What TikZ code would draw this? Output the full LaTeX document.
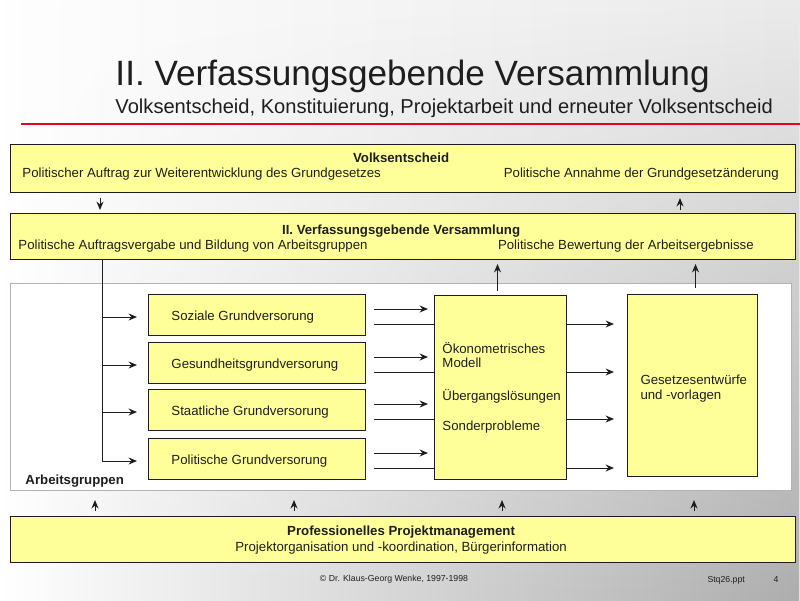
\documentclass[tikz,border=0pt]{standalone}
\usepackage{fontspec}
\setmainfont{Liberation Sans}
\usetikzlibrary{calc,arrows.meta,fadings}
\definecolor{boxyellow}{RGB}{255,255,153}
\definecolor{textgray}{RGB}{30,30,30}
\definecolor{linered}{RGB}{230,0,35}
\tikzfading[name=fadeup, top color=transparent!100, bottom color=transparent!0]
\newcommand{\sizetitle}{\fontsize{25pt}{30pt}\selectfont}
\newcommand{\sizesub}{\fontsize{14.3pt}{17pt}\selectfont}
\newcommand{\sizebox}{\fontsize{9.4pt}{11pt}\selectfont}
\newcommand{\sizefoot}{\fontsize{6.2pt}{8pt}\selectfont}

\begin{document}
\begin{tikzpicture}[x=0.025cm, y=-0.025cm, line width=0.7pt,
        box/.style={draw=textgray, fill=boxyellow, anchor=north west, inner sep=0pt},
        arr/.style={-{Stealth[length=6pt,width=5pt,inset=2pt]}, textgray},
        txt/.style={text=textgray, font=\sizebox, inner sep=0pt}]
        \useasboundingbox (0,0) rectangle (800,600);
        \shade[left color=white, right color=black!8] (0,0) rectangle (800,600);
        \shade[left color=white, right color=black!32, path fading=fadeup] (0,0) rectangle (800,600);

        \node[txt, font=\sizetitle, anchor=base west] (title) at (115,85) {II. Verfassungsgebende Versammlung};
        \node[txt, font=\sizesub, anchor=base west] (subtitle) at (115,113) {Volksentscheid, Konstituierung, Projektarbeit und erneuter Volksentscheid};
        \draw[linered, line width=1pt] (21,124) -- (800,124);

        \node[box, minimum width=19.625cm, minimum height=1.2cm] (volk) at (10,144) {};
        \node[txt, font=\sizebox\bfseries] (volkhead) at ($(volk.north)+(-2,14)$) {Volksentscheid};
        \node[txt, anchor=west] (volkleft) at ($(volk.north west)+(12,30)$) {Politischer Auftrag zur Weiterentwicklung des Grundgesetzes};
        \node[txt, anchor=east] (volkright) at ($(volk.north east)+(-17,30)$) {Politische Annahme der Grundgesetzänderung};

        \node[box, minimum width=19.625cm, minimum height=1.15cm] (vers) at (10,213) {};
        \node[txt, font=\sizebox\bfseries] (vershead) at ($(vers.north)+(-2,18)$) {II. Verfassungsgebende Versammlung};
        \node[txt, anchor=west] (versleft) at ($(vers.north west)+(8,33)$) {Politische Auftragsvergabe und Bildung von Arbeitsgruppen};
        \node[txt, anchor=east] (versright) at ($(vers.north east)+(-42,33)$) {Politische Bewertung der Arbeitsergebnisse};

        \draw[arr] ($(volk.south west)+(90,5)$) -- ($(vers.north west)+(90,-3)$);
        \draw[arr] ($(vers.north west)+(670,-3)$) -- ($(volk.south west)+(670,5)$);

        \node[box, fill=white, draw=black!30, minimum width=19.525cm, minimum height=5.175cm] (panel) at (10,283) {};
        \node[txt, font=\sizebox\bfseries, anchor=west] (panellabel) at ($(panel.south west)+(15,-10)$) {Arbeitsgruppen};

        \foreach \name/\y/\label in {soz/294/Soziale Grundversorung, ges/342/Gesundheitsgrundversorung, sta/389/Staatliche Grundversorung, pol/438/Politische Grundversorung}{
            \node[box, minimum width=5.425cm, minimum height=1.025cm] (\name) at (148,\y) {};
            \node[txt, anchor=west] (\name-text) at ($(\name.west)+(23,2)$) {\label};
        }

        \node[box, minimum width=3.3cm, minimum height=4.6cm] (oeko) at (434,295) {};
        \node[txt, anchor=west] (oeko1) at ($(oeko.north west)+(8,53)$) {Ökonometrisches};
        \node[txt, anchor=west] (oeko2) at ($(oeko.north west)+(8,68)$) {Modell};
        \node[txt, anchor=west] (oeko3) at ($(oeko.north west)+(8,101)$) {Übergangslösungen};
        \node[txt, anchor=west] (oeko4) at ($(oeko.north west)+(8,132)$) {Sonderprobleme};

        \node[box, minimum width=3.25cm, minimum height=4.55cm] (gesetz) at (627,294) {};
        \node[txt, anchor=west] (gesetz1) at ($(gesetz.north west)+(13,86)$) {Gesetzesentwürfe};
        \node[txt, anchor=west] (gesetz2) at ($(gesetz.north west)+(13,102)$) {und -vorlagen};

        \coordinate (trunk) at ($(vers.south west)+(92,0)$);
        \draw[textgray] (trunk) -- ($(trunk |- pol.west)+(0,2)$);
        \foreach \name in {soz,ges,sta,pol}{
            \draw[arr] ($(trunk |- \name.west)+(0,2)$) -- ($(\name.west)+(-11,2)$);
            \draw[arr] ($(\name.east)+(8,-6)$) -- ($(oeko.west |- \name.east)+(-6,-6)$);
            \draw[textgray] ($(\name.east)+(8,9)$) -- ($(oeko.west |- \name.east)+(0,9)$);
            \draw[arr] ($(oeko.east |- \name.east)+(0,9)$) -- ($(gesetz.west |- \name.east)+(-13,9)$);
        }

        \draw[arr] ($(oeko.north)+(-3,-4)$) -- ($(oeko.north |- vers.south)+(-3,4)$);
        \draw[arr] ($(gesetz.north)+(3,-6)$) -- ($(gesetz.north |- vers.south)+(3,4)$);

        \node[box, minimum width=19.625cm, minimum height=1.15cm] (proj) at (10,516) {};
        \node[txt, font=\sizebox\bfseries] (projhead) at ($(proj.north)+(-2,16)$) {Professionelles Projektmanagement};
        \node[txt] (projsub) at ($(proj.north)+(-2,32)$) {Projektorganisation und -koordination, Bürgerinformation};
        \foreach \dx in {85,284,492,684}
            \draw[arr] ($(proj.north west)+(\dx,-5)$) -- ($(panel.south west)+(\dx,9)$);

        \node[txt, font=\sizefoot, anchor=base] (copyright) at (394,581) {© Dr. Klaus-Georg Wenke, 1997-1998};
        \node[txt, font=\sizefoot, anchor=base west] (filename) at (707,582) {Stq26.ppt};
        \node[txt, font=\sizefoot, anchor=base west] (pagenum) at (773,582) {4};
    \end{tikzpicture}
\end{document}
